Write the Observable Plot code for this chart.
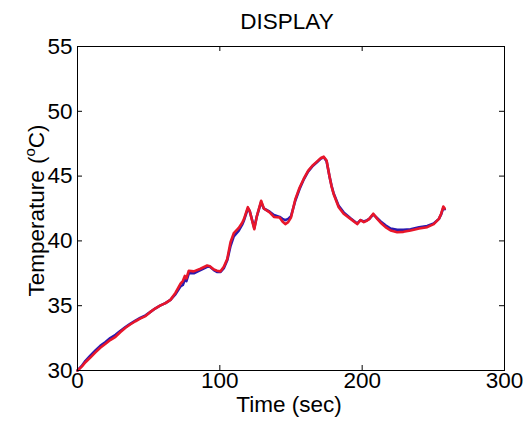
<!DOCTYPE html>
<html>
<head>
<meta charset="utf-8">
<script src="https://cdn.jsdelivr.net/npm/d3@7"></script>
<script src="https://cdn.jsdelivr.net/npm/@observablehq/plot@0.6"></script>
<style>
  html, body { margin: 0; padding: 0; background: #fff; }
  svg { display: block; }
</style>
</head>
<body>
<div id="chart"></div>
<script>
const title = "DISPLAY";
const xLabel = "Time (sec)";
const yLabel = "Temperature (°C)";
const xTicks = [0, 100, 200, 300];
const yTicks = [30, 35, 40, 45, 50, 55];

const time = [0,3,5.6,9,12.6,16,19.7,23,26.7,30,33.7,37,40.7,44,47.8,51,54.8,58,61.8,65.3,68.9,72.4,74,75.4,76.5,78.2,81.7,86.4,91.1,93,95.8,98,100.5,102.8,105.2,107.5,109.8,113.3,115.7,117,119.7,121,124.2,126,129,130.9,135,138,142,144,146,148,150,153,156,159,162,165,168,171,173,175,177,178.5,180,183.5,187,191.8,196.5,198.8,201.2,203.5,205,207.8,210.6,213,216.4,220,224.6,229,234,240,245.7,250.3,253.9,255.5,257,258];

const redTemp = [30.0,30.3,30.64,31.0,31.4,31.75,32.06,32.35,32.6,32.95,33.3,33.55,33.8,34.0,34.2,34.5,34.8,35.0,35.2,35.45,36.0,36.7,36.9,37.3,37.1,37.7,37.65,37.85,38.1,38.05,37.8,37.7,37.65,38.0,38.6,39.9,40.6,41.0,41.4,41.7,42.6,42.3,40.9,41.9,43.1,42.5,42.2,41.85,41.8,41.5,41.3,41.45,41.8,43.2,44.1,44.8,45.4,45.8,46.1,46.4,46.5,46.2,45.0,44.2,43.6,42.6,42.1,41.7,41.3,41.6,41.45,41.57,41.7,42.1,41.7,41.4,41.06,40.8,40.67,40.7,40.8,40.95,41.06,41.3,41.7,42.1,42.65,42.5];

const blueTemp = [30.0,30.35,30.75,31.15,31.55,31.9,32.2,32.5,32.75,33.05,33.35,33.6,33.85,34.05,34.25,34.5,34.8,35.0,35.2,35.45,35.9,36.5,36.6,37.0,36.9,37.5,37.5,37.75,38.0,38.0,37.75,37.6,37.6,37.9,38.5,39.6,40.35,40.8,41.25,41.6,42.5,42.3,41.0,41.9,43.0,42.5,42.25,42.0,41.85,41.7,41.6,41.7,41.9,43.1,44.0,44.75,45.35,45.75,46.05,46.35,46.45,46.15,45.0,44.25,43.65,42.7,42.2,41.75,41.35,41.6,41.5,41.6,41.7,42.05,41.75,41.5,41.2,40.95,40.85,40.85,40.9,41.05,41.15,41.35,41.7,42.05,42.55,42.45];

const red = time.map((t, i) => ({t, v: redTemp[i]}));
const blue = time.map((t, i) => ({t, v: blueTemp[i]}));

const W = 527, H = 424;
const mT = 46, mB = 54, mL = 77, mR = 23;
const frameW = W - mL - mR, frameH = H - mT - mB;
const tickLen = 5;
const fs = 22.5;
const font = "'Liberation Sans', Arial, sans-serif";

const plot = Plot.plot({
  width: W,
  height: H,
  marginTop: mT,
  marginBottom: mB,
  marginLeft: mL,
  marginRight: mR,
  style: {fontFamily: font, fontSize: fs + "px", color: "#000", background: "#fff"},
  x: {domain: [0, 300]},
  y: {domain: [30, 55]},
  marks: [
    Plot.axisX({ticks: xTicks, tickSize: 0, tickPadding: 2, label: null, fontSize: fs, tickFormat: d => String(d)}),
    Plot.axisY({ticks: yTicks, tickSize: 0, tickPadding: 5, label: null, fontSize: fs, tickFormat: d => String(d)}),
    Plot.ruleX(xTicks, {stroke: "#000", strokeWidth: 1, insetTop: frameH - tickLen}),
    Plot.ruleX(xTicks, {stroke: "#000", strokeWidth: 1, insetBottom: frameH - tickLen}),
    Plot.ruleY(yTicks, {stroke: "#000", strokeWidth: 1, insetRight: frameW - tickLen}),
    Plot.ruleY(yTicks, {stroke: "#000", strokeWidth: 1, insetLeft: frameW - tickLen}),
    Plot.line(blue, {x: "t", y: "v", stroke: "#2a1ab0", strokeWidth: 2.6, strokeLinejoin: "round"}),
    Plot.line(red, {x: "t", y: "v", stroke: "#e8162a", strokeWidth: 2.6, strokeLinejoin: "round"}),
    Plot.frame({stroke: "#000", strokeWidth: 1}),
    Plot.text([title], {frameAnchor: "top", lineAnchor: "bottom", dy: -18, dx: -4, fontSize: fs, fill: "#000"}),
    Plot.text([xLabel], {frameAnchor: "bottom", lineAnchor: "bottom", dy: 41, dx: -2, fontSize: fs, fill: "#000"}),
    Plot.text([yLabel], {frameAnchor: "left", textAnchor: "middle", lineAnchor: "bottom", rotate: -90, dx: -34, dy: 2, fontSize: fs, fill: "#000"})
  ]
});

// superscript "o" in the y-axis label
d3.select(plot).selectAll("text").each(function() {
  if (this.textContent === yLabel) {
    const t = d3.select(this);
    t.text(null);
    t.append("tspan").text("Temperature (");
    t.append("tspan").attr("dy", -9).attr("font-size", 15).text("o");
    t.append("tspan").attr("dy", 9).text("C)");
  }
});

document.getElementById("chart").appendChild(plot);
</script>
</body>
</html>
